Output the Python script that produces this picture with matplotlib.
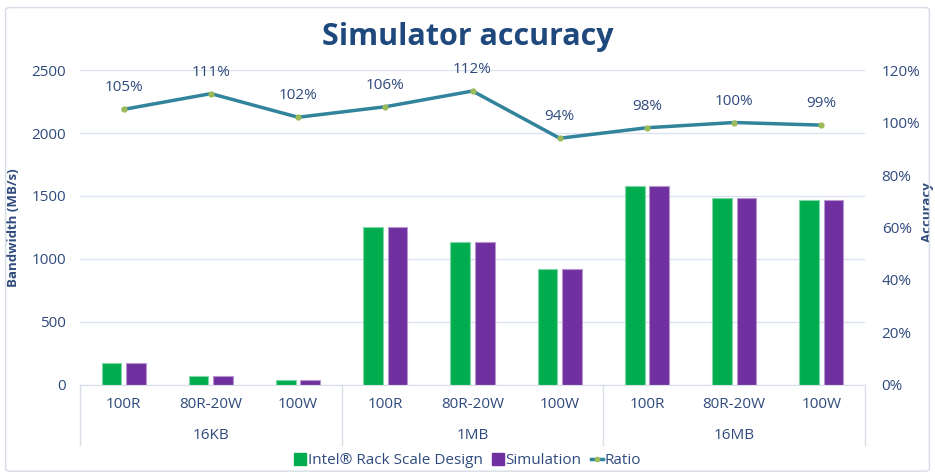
import numpy as np
import matplotlib.pyplot as plt
from matplotlib.lines import Line2D
from matplotlib.patches import Patch, FancyBboxPatch

# data
groups = ["16KB", "1MB", "16MB"]
workloads = ["100R", "80R-20W", "100W"]
intel_rsd = [175, 70, 40, 1250, 1135, 920, 1580, 1485, 1470]
simulation = [175, 70, 40, 1250, 1135, 920, 1580, 1485, 1470]
ratio = [105, 111, 102, 106, 112, 94, 98, 100, 99]

plt.rcParams['font.family'] = ['Open Sans', 'DejaVu Sans']
txt = '#2F4A7C'
green = '#00AD4E'
purple = '#7030A0'
teal = '#31849B'

fig = plt.figure(figsize=(9.35, 4.74), dpi=100)
fig.patches.append(FancyBboxPatch((0.006, 0.006), 0.988, 0.978, boxstyle="round,pad=0,rounding_size=0.005",
                                  transform=fig.transFigure, fill=False, edgecolor='#D6DCE5', lw=1))
ax = fig.add_axes([0.0856, 0.1878, 0.8395, 0.6645])
ax2 = ax.twinx()

n = len(intel_rsd)
x = np.arange(n)
w = 0.225
ax.bar(x - 0.14, intel_rsd, w, color=green, edgecolor='#7FD6A6', lw=0.8, zorder=2)
ax.bar(x + 0.14, simulation, w, color=purple, edgecolor='#B897CF', lw=0.8, zorder=2)

ax.set_xlim(-0.5, n - 0.5)
ax.set_ylim(0, 2500)
ax.set_yticks(range(0, 2501, 500))
ax.yaxis.grid(True, color='#DCE3F0', lw=1)
ax.set_axisbelow(True)
for s in ['top', 'right', 'left']:
    ax.spines[s].set_visible(False)
ax.spines['bottom'].set_color('#D9DEE8')
ax.tick_params(axis='y', length=0, labelsize=11, labelcolor=txt, pad=10)
ax.set_xticks(x)
ax.set_xticklabels(workloads * len(groups), fontsize=11, color=txt)
ax.tick_params(axis='x', length=0, pad=9)
ax.set_ylabel("Bandwidth (MB/s)", fontsize=9.5, fontweight='bold', color=txt)
ax.yaxis.set_label_coords(-0.077, 0.5)

# group labels and separators under the axis
trans = ax.get_xaxis_transform()
for i, g in enumerate(groups):
    ax.text(3 * i + 1, -0.16, g, transform=trans, ha='center', va='center', fontsize=11, color=txt)
for b in [-0.5, 2.5, 5.5, 8.5]:
    ax.plot([b, b], [0, -0.19], transform=trans, color='#D9DEE8', lw=1, clip_on=False)

ax2.plot(x, ratio, color=teal, lw=2.5, marker='o', ms=3.5, mfc='#9BBB59', mec='#9BBB59', zorder=3)
for xi, r in zip(x, ratio):
    ax2.annotate(f"{r}%", (xi, r), xytext=(0, 10), textcoords='offset points',
                 ha='center', va='bottom', fontsize=11, color=txt)
ax2.set_ylim(0, 120)
ax2.set_yticks(range(0, 121, 20))
ax2.set_yticklabels([f"{v}%" for v in range(0, 121, 20)])
for s in ax2.spines.values():
    s.set_visible(False)
ax2.tick_params(axis='y', length=0, labelsize=11, labelcolor=txt, pad=12)
ax2.set_ylabel("Accuracy", fontsize=9.5, fontweight='bold', color=txt, rotation=90)
ax2.yaxis.set_label_coords(1.071, 0.55)

fig.text(0.5, 0.922, "Simulator accuracy", ha='center', va='center', fontsize=22,
         fontweight='bold', color='#1F497D')

handles = [Patch(color=green), Patch(color=purple),
           Line2D([], [], color=teal, lw=2.5, marker='o', ms=3, mfc='#9BBB59', mec='#9BBB59')]
fig.legend(handles, ["Intel® Rack Scale Design", "Simulation", "Ratio"], loc='center',
           bbox_to_anchor=(0.5, 0.028), ncol=3, frameon=False, fontsize=11, labelcolor=txt,
           handlelength=0.8, handleheight=0.8, handletextpad=0.1, columnspacing=0.6)

fig.savefig("out.png", dpi=100)
